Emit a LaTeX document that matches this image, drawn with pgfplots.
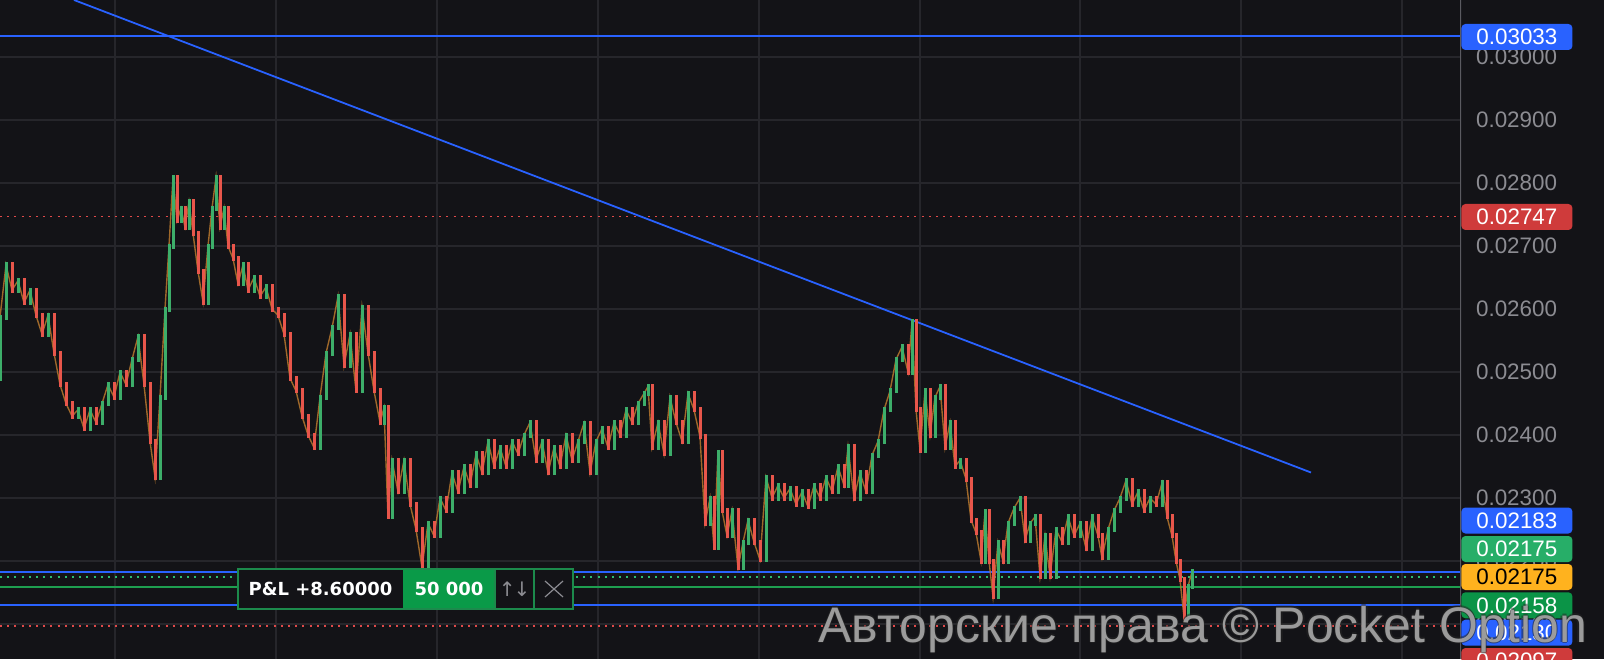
\documentclass[border=0pt]{standalone}
\usepackage{fontspec}
\setmainfont{Liberation Sans}
\newfontfamily\dejavu{DejaVu Sans}
\usepackage{pgfplots}
\usepackage{pgfplotstable}
\pgfplotsset{compat=1.18}

\definecolor{bg}{HTML}{131317}
\definecolor{gridc}{HTML}{26262B}
\definecolor{axc}{HTML}{5A5A60}
\definecolor{tickc}{HTML}{8C8C92}
\definecolor{upc}{HTML}{3DAE6A}
\definecolor{dnc}{HTML}{E8564B}
\definecolor{midc}{HTML}{B8782E}
\definecolor{lblue}{HTML}{2962FF}
\definecolor{lred}{HTML}{E04A4A}
\definecolor{lgreen}{HTML}{2DBB70}
\definecolor{lgreen2}{HTML}{1E9E50}
\definecolor{tgreen}{HTML}{27AE68}
\definecolor{tgreen2}{HTML}{0B9447}
\definecolor{tyellow}{HTML}{FFB21E}
\definecolor{tred}{HTML}{CF3B3B}
\definecolor{pgreen}{HTML}{0A9A48}
\definecolor{pborder}{HTML}{1C8A4C}

\newcommand\tickfont{\fontsize{11.2}{13}\selectfont}

% candles: time (px), open, close
\pgfplotstableread{
x o c
0 0.02490 0.02587
6 0.02587 0.02670
12 0.02670 0.02630
18 0.02630 0.02645
24 0.02645 0.02610
30 0.02610 0.02630
36 0.02630 0.02590
42 0.02590 0.02560
48 0.02560 0.02590
54 0.02590 0.02530
60 0.02530 0.02480
66 0.02480 0.02450
72 0.02450 0.02430
78 0.02430 0.02440
84 0.02440 0.02410
90 0.02410 0.02440
96 0.02440 0.02420
102 0.02420 0.02450
108 0.02450 0.02480
114 0.02480 0.02460
120 0.02460 0.02500
126 0.02500 0.02480
132 0.02480 0.02520
138 0.02520 0.02556
144 0.02556 0.02480
150 0.02480 0.02390
155 0.02390 0.02333
160 0.02333 0.02460
165 0.02460 0.02600
169 0.02600 0.02700
173 0.02700 0.02809
177 0.02809 0.02740
181 0.02740 0.02760
185 0.02760 0.02730
189 0.02730 0.02770
193 0.02770 0.02720
198 0.02720 0.02660
203 0.02660 0.02611
208 0.02611 0.02700
212 0.02700 0.02760
216 0.02760 0.02809
220 0.02809 0.02730
224 0.02730 0.02760
228 0.02760 0.02700
233 0.02700 0.02680
238 0.02680 0.02640
243 0.02640 0.02670
248 0.02670 0.02630
254 0.02630 0.02650
260 0.02650 0.02620
266 0.02620 0.02635
272 0.02635 0.02600
278 0.02600 0.02590
284 0.02590 0.02560
290 0.02560 0.02490
296 0.02490 0.02470
302 0.02470 0.02430
308 0.02430 0.02400
314 0.02400 0.02380
320 0.02380 0.02460
326 0.02460 0.02530
332 0.02530 0.02570
338 0.02570 0.02620
344 0.02620 0.02510
350 0.02510 0.02560
356 0.02560 0.02470
362 0.02470 0.02603
368 0.02603 0.02530
374 0.02530 0.02470
380 0.02470 0.02420
384 0.02420 0.02443
388 0.02443 0.02270
392 0.02270 0.02360
398 0.02360 0.02310
404 0.02310 0.02360
410 0.02360 0.02290
416 0.02290 0.02250
422 0.02250 0.02190
428 0.02190 0.02260
434 0.02260 0.02240
440 0.02240 0.02300
446 0.02300 0.02280
452 0.02280 0.02340
458 0.02340 0.02310
464 0.02310 0.02350
470 0.02350 0.02320
476 0.02320 0.02370
482 0.02370 0.02340
488 0.02340 0.02390
494 0.02390 0.02350
500 0.02350 0.02380
506 0.02380 0.02350
512 0.02350 0.02390
518 0.02390 0.02370
524 0.02370 0.02400
530 0.02400 0.02420
536 0.02420 0.02360
542 0.02360 0.02390
548 0.02390 0.02340
554 0.02340 0.02380
560 0.02380 0.02350
566 0.02350 0.02400
572 0.02400 0.02360
578 0.02360 0.02390
584 0.02390 0.02419
590 0.02419 0.02340
596 0.02340 0.02390
602 0.02390 0.02410
608 0.02410 0.02380
614 0.02380 0.02420
620 0.02420 0.02400
626 0.02400 0.02440
632 0.02440 0.02420
638 0.02420 0.02450
644 0.02450 0.02466
648 0.02466 0.02477
652 0.02477 0.02380
658 0.02380 0.02420
664 0.02420 0.02370
670 0.02370 0.02460
676 0.02460 0.02420
682 0.02420 0.02390
688 0.02390 0.02466
694 0.02466 0.02440
700 0.02440 0.02397
705 0.02397 0.02260
710 0.02260 0.02300
714 0.02300 0.02222
718 0.02222 0.02373
722 0.02373 0.02280
727 0.02280 0.02240
732 0.02240 0.02280
738 0.02280 0.02189
743 0.02189 0.02230
748 0.02230 0.02265
754 0.02265 0.02230
760 0.02230 0.02202
766 0.02202 0.02333
772 0.02333 0.02300
778 0.02300 0.02320
784 0.02320 0.02300
790 0.02300 0.02315
796 0.02315 0.02290
802 0.02290 0.02310
808 0.02310 0.02286
814 0.02286 0.02320
820 0.02320 0.02300
826 0.02300 0.02333
832 0.02333 0.02310
838 0.02310 0.02350
844 0.02350 0.02320
848 0.02320 0.02381
854 0.02381 0.02300
860 0.02300 0.02340
866 0.02340 0.02310
872 0.02310 0.02368
878 0.02368 0.02390
884 0.02390 0.02440
890 0.02440 0.02470
896 0.02470 0.02520
902 0.02520 0.02540
908 0.02540 0.02500
912 0.02500 0.02580
916 0.02580 0.02440
920 0.02440 0.02376
925 0.02376 0.02470
930 0.02470 0.02400
935 0.02400 0.02460
940 0.02460 0.02477
945 0.02477 0.02380
950 0.02380 0.02420
955 0.02420 0.02350
960 0.02350 0.02360
966 0.02360 0.02330
971 0.02330 0.02265
976 0.02265 0.02245
981 0.02245 0.02200
985 0.02200 0.02278
989 0.02278 0.02200
993 0.02200 0.02143
998 0.02143 0.02230
1003 0.02230 0.02200
1008 0.02200 0.02260
1014 0.02260 0.02284
1020 0.02284 0.02300
1025 0.02300 0.02233
1030 0.02233 0.02260
1035 0.02260 0.02270
1040 0.02270 0.02175
1045 0.02175 0.02240
1050 0.02240 0.02176
1056 0.02176 0.02250
1062 0.02250 0.02230
1068 0.02230 0.02270
1074 0.02270 0.02240
1080 0.02240 0.02260
1086 0.02260 0.02220
1092 0.02220 0.02270
1098 0.02270 0.02240
1102 0.02240 0.02205
1108 0.02205 0.02250
1114 0.02250 0.02280
1120 0.02280 0.02300
1126 0.02300 0.02328
1132 0.02328 0.02290
1138 0.02290 0.02310
1144 0.02310 0.02280
1150 0.02280 0.02300
1156 0.02300 0.02290
1162 0.02290 0.02324
1167 0.02324 0.02270
1172 0.02270 0.02240
1176 0.02240 0.02200
1180 0.02200 0.02170
1184 0.02170 0.02111
1188 0.02111 0.02160
1192 0.02160 0.02183
}\candles

\begin{document}
\begin{tikzpicture}
\fill[bg] (0,0) rectangle (802pt,329.5pt);
\begin{axis}[
  at={(0,0)}, anchor=south west,
  scale only axis,
  width=730.5pt, height=329.5pt,
  xmin=0, xmax=1461,
  ymin=0.020445, ymax=0.030905,
  axis line style={draw=none},
  tick style={draw=none},
  xtick={115,276,437,598,759,920,1080,1241,1402},
  xticklabels={},
  ytick={0.021,0.022,0.023,0.024,0.025,0.026,0.027,0.028,0.029,0.030,0.031},
  scaled y ticks=false,
  yticklabel pos=right,
  yticklabel style={anchor=west, xshift=4pt, text=tickc, font=\tickfont,
    /pgf/number format/.cd, fixed, fixed zerofill, precision=5, assume math mode=true},
  grid=major,
  major grid style={draw=gridc, line width=0.9pt},
]
% horizontal levels
\addplot[lblue, line width=1pt] coordinates {(0,0.03033) (1461,0.03033)};
\addplot[lred, line width=0.9pt, dash pattern=on 1pt off 2.6pt] coordinates {(0,0.02747) (1461,0.02747)};
\addplot[lblue, line width=1pt] coordinates {(0,0.02183) (1461,0.02183)};
\addplot[lgreen, line width=0.9pt, dash pattern=on 1pt off 2.6pt] coordinates {(0,0.02175) (1461,0.02175)};
\addplot[lgreen2, line width=1pt] coordinates {(0,0.02158) (1461,0.02158)};
\addplot[lblue, line width=1pt] coordinates {(0,0.02130) (1461,0.02130)};
\addplot[lred, line width=0.9pt, dash pattern=on 1pt off 2.6pt] coordinates {(0,0.02097) (1461,0.02097)};
% trend line
\addplot[lblue, line width=0.9pt] coordinates {(74,0.030905) (1311,0.023405)};
% candles
\addplot[midc, line width=0.7pt, opacity=0.85] table[x=x, y=c] {\candles};
\addplot[draw=none, restrict expr to domain={\thisrow{c}-\thisrow{o}}{0:1},
  error bars/.cd, y dir=both, y explicit, error mark=none,
  error bar style={draw=upc, line width=1.5pt}]
  table[x=x, y=o, y error plus expr=\thisrow{c}-\thisrow{o}+0.00004, y error minus expr=0.00004] {\candles};
\addplot[draw=none, restrict expr to domain={\thisrow{c}-\thisrow{o}}{-1:0},
  error bars/.cd, y dir=both, y explicit, error mark=none,
  error bar style={draw=dnc, line width=1.5pt}]
  table[x=x, y=o, y error plus expr=0.00004, y error minus expr=\thisrow{o}-\thisrow{c}+0.00004] {\candles};
\draw[axc, line width=1pt] (rel axis cs:1,0) -- (rel axis cs:1,1);
\end{axis}

% price tags
\tikzset{tag/.style={anchor=west, inner sep=0pt, minimum height=13pt, minimum width=55.5pt,
  rounded corners=2pt, text=white, font=\tickfont}}
\node[tag, fill=lblue] at (730.5pt,311pt) {0.03033};
\node[tag, fill=tred] at (730.5pt,221pt) {0.02747};
\node[tag, fill=lblue] at (730.5pt,69.25pt) {0.02183};
\node[tag, fill=tgreen] at (730.5pt,55pt) {0.02175};
\node[tag, fill=tyellow, text=black] at (730.5pt,41pt) {0.02175};
\node[tag, fill=tgreen2] at (730.5pt,26.85pt) {0.02158};
\node[tag, fill=lblue] at (730.5pt,13.15pt) {0.02130};
\node[tag, fill=tred] at (730.5pt,-1pt) {0.02097};

% P&L box
\fill[bg] (119pt,25pt) rectangle (286.5pt,45pt);
\fill[pgreen] (201.5pt,25pt) rectangle (247.5pt,45pt);
\draw[pborder, line width=1pt] (119pt,25pt) rectangle (286.5pt,45pt);
\draw[pborder, line width=1pt] (247.5pt,25pt) -- (247.5pt,45pt) (267pt,25pt) -- (267pt,45pt);
\node[font=\dejavu\bfseries\fontsize{9}{10}\selectfont, text=white] at (160.25pt,35pt) {P\&L +8.60000};
\node[font=\dejavu\bfseries\fontsize{9}{10}\selectfont, text=white] at (224.5pt,35pt) {50 000};
\node[font=\dejavu\fontsize{10}{10}\selectfont, text=tickc, inner sep=0pt] at (257.25pt,35pt) {↑\kern-1pt↓};
\draw[tickc, line width=0.6pt] (272.5pt,39pt) -- (281.5pt,31pt) (272.5pt,31pt) -- (281.5pt,39pt);

% watermark, with a soft dark rim
\foreach \dx/\dy in {-0.6/0,0.6/0,0/-0.6,0/0.6} {
  \node[anchor=base west, inner sep=0pt, text=black!70!gray, opacity=0.5,
    font=\fontsize{25}{25}\selectfont] at (409pt+\dx pt,8.5pt+\dy pt) {Авторские права © Pocket Option};
}
\node[anchor=base west, inner sep=0pt, text=white!66!black, opacity=0.9,
  font=\fontsize{25}{25}\selectfont] at (409pt,8.5pt) {Авторские права © Pocket Option};

\pgfresetboundingbox
\useasboundingbox (0,0) rectangle (802pt,329.5pt);
\end{tikzpicture}
\end{document}
